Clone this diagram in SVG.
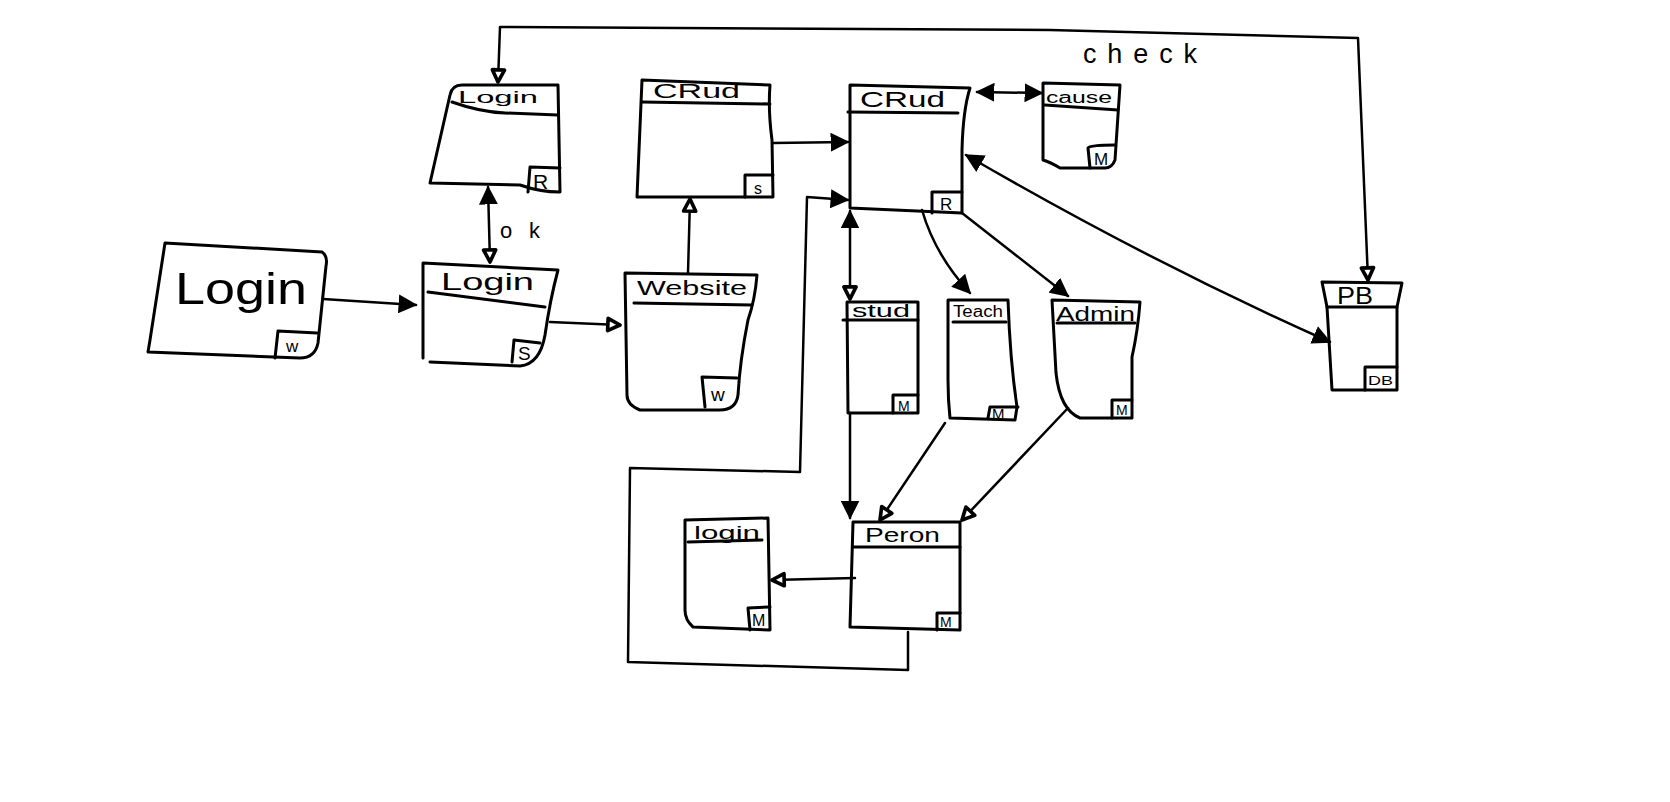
<svg xmlns="http://www.w3.org/2000/svg" width="1670" height="802" viewBox="0 0 1670 802">
<style>
.s{fill:none;stroke:#000;stroke-width:3;stroke-linejoin:round;stroke-linecap:round}
.b{fill:#fff;stroke:#000;stroke-width:3;stroke-linejoin:round}
.t{font-family:"Liberation Sans",Arial,sans-serif;fill:#000}
.c{fill:none;stroke:#000;stroke-width:2.5;stroke-linejoin:round;stroke-linecap:round}
</style>
<defs>
<marker id="fa" viewBox="0 0 12 12" refX="11" refY="6" markerWidth="19" markerHeight="19" markerUnits="userSpaceOnUse" orient="auto-start-reverse">
<path d="M0,0 L12,6 L0,12 Z" fill="#000"/>
</marker>
<marker id="oa" viewBox="0 0 14 14" refX="12" refY="7" markerWidth="17" markerHeight="17" markerUnits="userSpaceOnUse" orient="auto-start-reverse">
<path d="M2,2 L12,7 L2,12 Z" fill="#fff" stroke="#000" stroke-width="3" stroke-linejoin="round"/>
</marker>
</defs>
<rect width="1670" height="802" fill="#fff"/>

<g id="connectors">
<path class="c" d="M323,299 L416,305" marker-end="url(#fa)"/>
<path class="c" d="M550,322 L620,325" marker-end="url(#oa)"/>
<path class="c" d="M688,273 L690,199" marker-end="url(#oa)"/>
<path class="c" d="M773,143 L848,142" marker-end="url(#fa)"/>
<path class="c" d="M488,187 L490,262" marker-start="url(#fa)" marker-end="url(#oa)"/>
<path class="c" d="M498,82 L500,27 L1050,30 L1358,38 L1368,280" marker-start="url(#oa)" marker-end="url(#oa)"/>
<path class="c" d="M977,92 L1042,93" marker-start="url(#fa)" marker-end="url(#fa)"/>
<path class="c" d="M966,155 Q1150,262 1330,342" marker-start="url(#fa)" marker-end="url(#fa)"/>
<path class="c" d="M850,211 L850,299" marker-start="url(#fa)" marker-end="url(#oa)"/>
<path class="c" d="M922,210 Q935,255 970,293" marker-end="url(#fa)"/>
<path class="c" d="M962,213 L1068,296" marker-end="url(#fa)"/>
<path class="c" d="M850,413 L850,518" marker-end="url(#fa)"/>
<path class="c" d="M945,423 L880,520" marker-end="url(#oa)"/>
<path class="c" d="M1068,408 L962,520" marker-end="url(#oa)"/>
<path class="c" d="M855,578 L772,580" marker-end="url(#oa)"/>
<path class="c" d="M908,632 L908,670 L628,662 L630,468 L800,472 L807,197 L848,200" marker-end="url(#fa)"/>
</g>

<g id="login-w">
<path class="s" d="M165,243 L322,252 Q328,256 326,266 L318,343 Q315,358 300,358 L148,352 L150,340 Z"/>
<path class="s" d="M275,358 L278,331 L317,333"/>
<text class="t" x="175" y="304" font-size="44" textLength="132" lengthAdjust="spacingAndGlyphs">Login</text>
<text class="t" x="286" y="352" font-size="17">w</text>
</g>

<g id="login-s">
<path class="s" d="M423,358 L423,263 L558,270 Q550,300 545,335 Q540,364 520,366 L430,362"/>
<path class="s" d="M428,292 L545,307"/>
<path class="s" d="M512,362 L514,340 L540,343"/>
<text class="t" x="441" y="290" font-size="24" textLength="93" lengthAdjust="spacingAndGlyphs">Login</text>
<text class="t" x="518" y="360" font-size="19">S</text>
</g>

<g id="login-r">
<path class="s" d="M430,183 L450,95 Q452,85 462,85 L558,85 L560,192 Q540,192 520,185 Z"/>
<path class="s" d="M452,102 Q480,112 505,113 L558,115"/>
<path class="s" d="M528,192 L530,167 L560,168"/>
<text class="t" x="458" y="103" font-size="16" textLength="80" lengthAdjust="spacingAndGlyphs">Login</text>
<text class="t" x="533" y="189" font-size="21">R</text>
</g>

<g id="crud-s">
<path class="s" d="M642,80 L770,85 Q768,110 772,140 L773,197 L637,197 Z"/>
<path class="s" d="M642,102 L770,104"/>
<path class="s" d="M745,197 L745,175 L773,175"/>
<text class="t" x="653" y="98" font-size="20" textLength="87" lengthAdjust="spacingAndGlyphs">CRud</text>
<text class="t" x="754" y="194" font-size="16">s</text>
</g>

<g id="website">
<path class="s" d="M625,273 L757,275 Q755,300 748,320 Q740,360 738,395 Q736,410 720,410 L640,410 Q627,405 627,395 Z"/>
<path class="s" d="M634,303 L752,305"/>
<path class="s" d="M705,407 L702,377 L737,378"/>
<text class="t" x="637" y="295" font-size="21" textLength="110" lengthAdjust="spacingAndGlyphs">Website</text>
<text class="t" x="711" y="401" font-size="19">w</text>
</g>

<g id="crud-r">
<path class="s" d="M850,208 L850,85 L970,88 Q963,110 962,150 L962,213 Z"/>
<path class="s" d="M848,112 L958,113"/>
<path class="s" d="M932,213 L932,192 L962,192"/>
<text class="t" x="860" y="107" font-size="22" textLength="85" lengthAdjust="spacingAndGlyphs">CRud</text>
<text class="t" x="940" y="210" font-size="17">R</text>
</g>

<g id="cause">
<path class="s" d="M1043,83 L1120,85 L1115,160 Q1112,168 1105,168 L1060,168 Q1050,162 1043,160 Z"/>
<path class="s" d="M1045,105 L1118,110"/>
<path class="s" d="M1090,168 L1088,148 Q1090,145 1115,145"/>
<text class="t" x="1046" y="103" font-size="16" textLength="66" lengthAdjust="spacingAndGlyphs">cause</text>
<text class="t" x="1094" y="165" font-size="17">M</text>
</g>

<g id="stud">
<path class="s" d="M847,302 L918,302 L918,413 L848,413 Z"/>
<path class="s" d="M843,320 L918,320"/>
<path class="s" d="M893,413 L893,395 L918,395"/>
<text class="t" x="852" y="317" font-size="18" textLength="58" lengthAdjust="spacingAndGlyphs">stud</text>
<text class="t" x="898" y="411" font-size="14">M</text>
</g>

<g id="teach">
<path class="s" d="M948,300 L1008,300 Q1010,360 1017,407 L1015,420 L950,418 Q948,400 948,380 Z"/>
<path class="s" d="M953,322 L1006,322"/>
<path class="s" d="M988,418 L990,407 L1018,407"/>
<text class="t" x="953" y="317" font-size="16" textLength="50" lengthAdjust="spacingAndGlyphs">Teach</text>
<text class="t" x="992" y="419" font-size="15">M</text>
</g>

<g id="admin">
<path class="s" d="M1052,300 L1140,302 Q1138,330 1132,357 L1132,418 L1080,418 Q1060,410 1056,373 Z"/>
<path class="s" d="M1057,323 L1135,323"/>
<path class="s" d="M1112,418 L1112,400 L1132,400"/>
<text class="t" x="1056" y="321" font-size="21" textLength="79" lengthAdjust="spacingAndGlyphs">Admin</text>
<text class="t" x="1116" y="415" font-size="14">M</text>
</g>

<g id="db">
<path class="s" d="M1322,282 L1402,283 L1397,307 L1397,390 L1332,390 L1327,307 Z"/>
<path class="s" d="M1327,307 L1397,307"/>
<path class="s" d="M1365,390 L1365,367 L1397,367"/>
<text class="t" x="1337" y="304" font-size="24" textLength="36" lengthAdjust="spacingAndGlyphs">PB</text>
<text class="t" x="1368" y="385" font-size="13" textLength="25" lengthAdjust="spacingAndGlyphs">DB</text>
</g>

<g id="person">
<path class="s" d="M853,522 L960,522 L960,630 L850,627 Z"/>
<path class="s" d="M853,547 L960,547"/>
<path class="s" d="M937,630 L937,613 L960,613"/>
<text class="t" x="865" y="542" font-size="21" textLength="75" lengthAdjust="spacingAndGlyphs">Peron</text>
<text class="t" x="940" y="627" font-size="14">M</text>
</g>

<g id="login-m">
<path class="s" d="M685,520 L768,518 L770,630 L693,627 Q685,620 685,610 Z"/>
<path class="s" d="M688,542 L762,540"/>
<path class="s" d="M750,630 L748,608 L770,607"/>
<text class="t" x="694" y="539" font-size="19" textLength="66" lengthAdjust="spacingAndGlyphs">login</text>
<text class="t" x="752" y="626" font-size="16">M</text>
</g>

<g id="labels">
<text class="t" x="500" y="238" font-size="22" textLength="40" lengthAdjust="spacing">ok</text>
<text class="t" x="1083" y="63" font-size="27" textLength="114" lengthAdjust="spacing">check</text>
</g>
</svg>
